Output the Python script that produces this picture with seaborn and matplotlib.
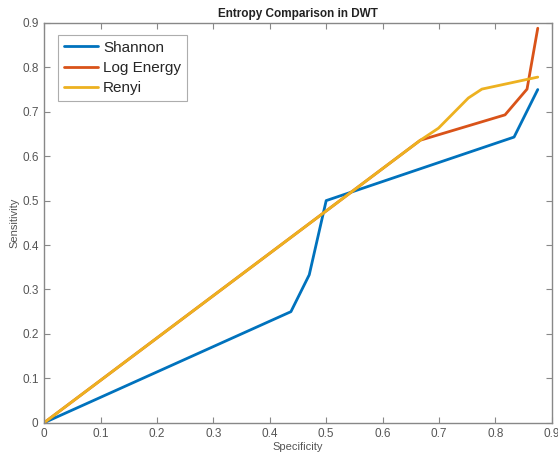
import matplotlib
matplotlib.use("Agg")
import matplotlib.pyplot as plt
import seaborn as sns
import pandas as pd
from matplotlib.lines import Line2D

# ROC-style points (specificity, sensitivity) for each entropy measure
shannon_x = [0.0, 0.4375, 0.47, 0.5, 0.833, 0.875]
shannon_y = [0.0, 0.25, 0.333, 0.5, 0.643, 0.75]

logenergy_x = [0.0, 0.667, 0.817, 0.856, 0.875]
logenergy_y = [0.0, 0.636, 0.693, 0.751, 0.888]

renyi_x = [0.0, 0.667, 0.699, 0.752, 0.776, 0.875]
renyi_y = [0.0, 0.636, 0.663, 0.731, 0.751, 0.778]

series_names = ["Shannon", "Log Energy", "Renyi"]
x_ticks = [0, 0.1, 0.2, 0.3, 0.4, 0.5, 0.6, 0.7, 0.8, 0.9]
y_ticks = [0, 0.1, 0.2, 0.3, 0.4, 0.5, 0.6, 0.7, 0.8, 0.9]

frames = []
for name, xs, ys in zip(series_names,
                        [shannon_x, logenergy_x, renyi_x],
                        [shannon_y, logenergy_y, renyi_y]):
    frames.append(pd.DataFrame({"Specificity": xs, "Sensitivity": ys,
                                "Method": name}))
df = pd.concat(frames, ignore_index=True)

sns.set_style("white")
plt.rcParams["font.family"] = ["Liberation Sans", "DejaVu Sans"]

palette = {"Shannon": "#0072BD", "Log Energy": "#D95319", "Renyi": "#EDB120"}

fig = plt.figure(figsize=(5.58, 4.58), dpi=100)
ax = fig.add_axes([0.079, 0.077, 0.910, 0.873])

sns.lineplot(data=df, x="Specificity", y="Sensitivity", hue="Method",
             palette=palette, sort=False, estimator=None, units="Method",
             linewidth=2.0, ax=ax, legend=False)

ax.set_xlim(0, 0.9)
ax.set_ylim(0, 0.9)
ax.set_xticks(x_ticks)
ax.set_yticks(y_ticks)
ax.set_xticklabels([f"{t:g}" for t in x_ticks])
ax.set_yticklabels([f"{t:g}" for t in y_ticks])

grey = "#555555"
for sp in ax.spines.values():
    sp.set_color("#888888")
    sp.set_linewidth(1.0)
    sp.set_visible(True)
ax.tick_params(direction="in", length=4, width=0.8, colors="#888888",
               labelcolor=grey, labelsize=8.5, top=True, right=True,
               bottom=True, left=True, pad=4)

ax.set_xlabel("Specificity", fontsize=8, color=grey, labelpad=1)
ax.set_ylabel("Sensitivity", fontsize=8, color=grey, labelpad=2)
ax.set_title("Entropy Comparison in DWT", fontsize=8.5, fontweight="bold",
             color="#222222", pad=4)

handles = [Line2D([0], [0], color=palette[n], lw=2.0) for n in series_names]
leg = ax.legend(handles, series_names, loc="upper left",
                bbox_to_anchor=(0.018, 0.982), fontsize=11, frameon=True,
                fancybox=False, edgecolor="#999999", handlelength=2.2,
                handletextpad=0.35, borderpad=0.4, labelspacing=0.4,
                borderaxespad=0.3)
leg.get_frame().set_linewidth(0.8)

fig.savefig("out.png", dpi=100)
